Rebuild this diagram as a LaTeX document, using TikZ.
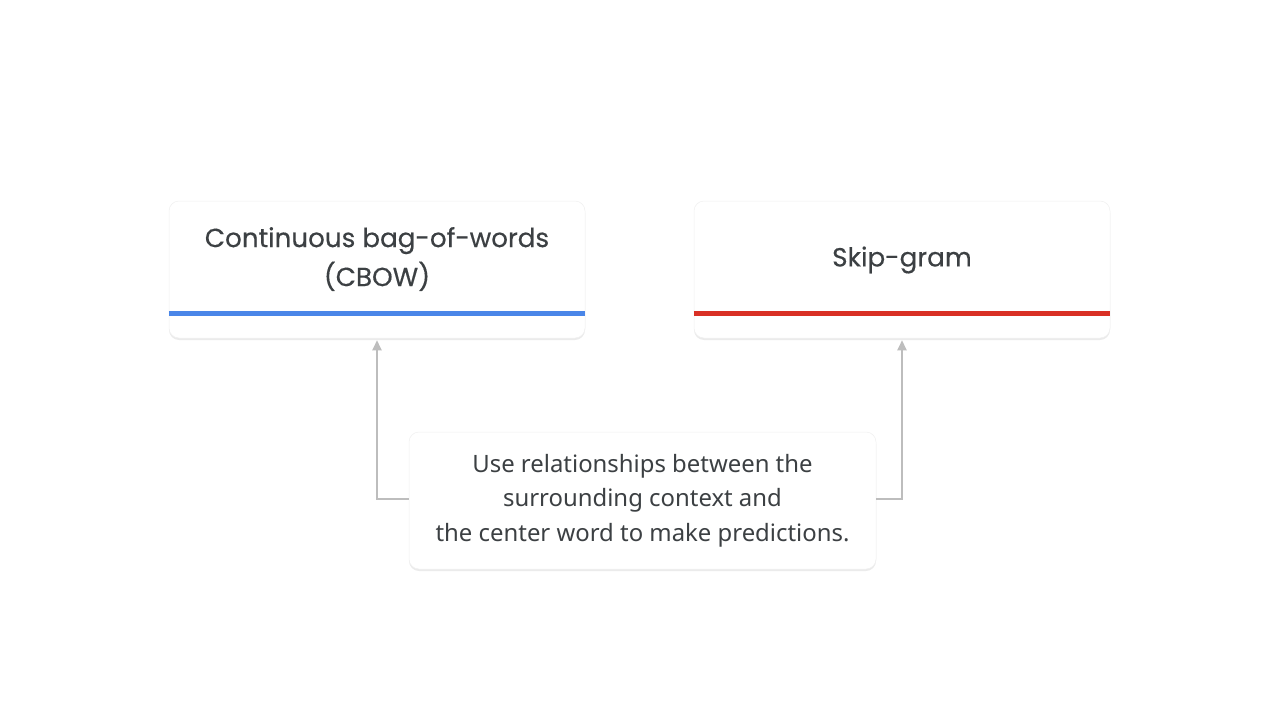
\documentclass[tikz,border=0pt]{standalone}
\usepackage{fontspec}
\setmainfont{Poppins}
\newfontfamily\titlefont{Poppins}[FakeBold=0.35]
\newfontfamily\bodyfont{Noto Sans}
\usetikzlibrary{arrows.meta,shadows,calc}
\definecolor{txt}{HTML}{3C4043}
\definecolor{gblue}{HTML}{4A86E8}
\definecolor{gred}{HTML}{D93025}
\definecolor{arrgray}{HTML}{BDBDBD}
\tikzset{
  card/.style={draw=black!6, line width=0.5pt, fill=white, rounded corners=10pt,
    drop shadow={shadow xshift=0pt, shadow yshift=-2pt, opacity=0.08, fill=black},
    minimum width=416pt, minimum height=137pt, inner sep=0pt},
  desccard/.style={card, minimum width=467pt},
  title/.style={text=txt, font=\titlefont\fontsize{26.2}{39}\selectfont, align=center, inner sep=0pt},
  body/.style={text=txt, font=\bodyfont\fontsize{23.9}{34.5}\selectfont, align=center, inner sep=0pt},
  bar/.style={line width=5pt},
  conn/.style={draw=arrgray, line width=2pt, -{Triangle[length=10pt,width=9pt]}, shorten >=2pt},
}
\begin{document}
\begin{tikzpicture}[x=1pt,y=-1pt]
\useasboundingbox[fill=white] (0,0) rectangle (1280,720);
\node[card] (cbow) at (377,269.5) {};
\node[card] (skip) at (902,269.5) {};
\node[desccard] (desc) at (642.5,500.5) {};
\draw[bar, gblue] ([yshift=25pt]cbow.south west) -- ([yshift=25pt]cbow.south east);
\draw[bar, gred] ([yshift=25pt]skip.south west) -- ([yshift=25pt]skip.south east);
\node[title] (cbowt) at (377,259) {Continuous bag-of-words\\(CBOW)};
\node[title] (skipt) at (902,260) {Skip-gram};
\node[body] (desct) at (642.5,500.5) {Use relationships between the\\surrounding context and\\the center word to make predictions.};
\draw[conn] ([yshift=2pt]desc.west) -| (cbow.south);
\draw[conn] ([yshift=2pt]desc.east) -| (skip.south);
\end{tikzpicture}
\end{document}
